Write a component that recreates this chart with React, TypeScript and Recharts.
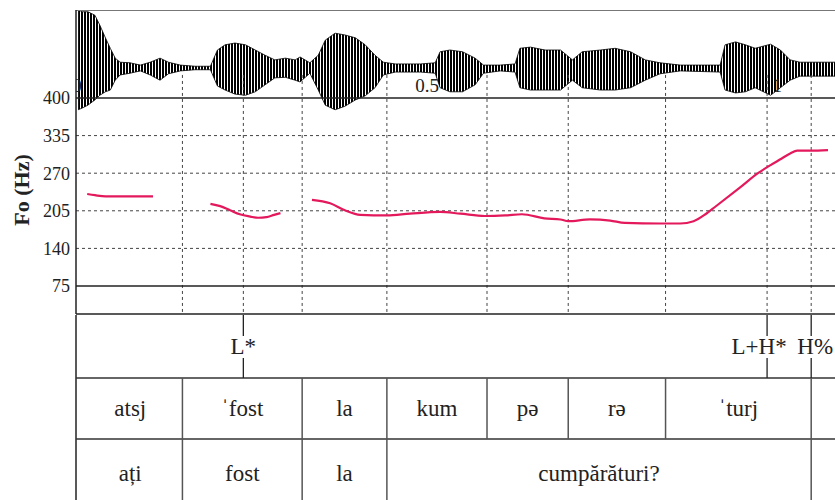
import React from 'react'
import { ComposedChart, Area, Line, Scatter, XAxis, YAxis, ReferenceLine } from 'recharts'

// waveform envelope: time (s), upper and lower peak amplitude
const waveTimes = [
  0, 0.006, 0.014, 0.024, 0.031, 0.039, 0.046, 0.053, 0.06, 0.074,
  0.089, 0.103, 0.117, 0.129, 0.146, 0.167, 0.189, 0.199, 0.21, 0.224,
  0.239, 0.253, 0.267, 0.281, 0.296, 0.31, 0.317, 0.331, 0.343, 0.353,
  0.367, 0.381, 0.396, 0.41, 0.424, 0.436, 0.453, 0.489, 0.51, 0.517,
  0.531, 0.549, 0.567, 0.579, 0.603, 0.624, 0.631, 0.646, 0.667, 0.689,
  0.706, 0.72, 0.746, 0.767, 0.789, 0.81, 0.831, 0.86, 0.917, 0.924,
  0.939, 0.953, 0.967, 0.989, 1.003, 1.017, 1.031, 1.081,
]
const waveHi = [
  1.0, 0.97, 0.97, 0.91, 0.74, 0.52, 0.34, 0.17, 0.1, 0.09,
  0.05, 0.1, 0.17, 0.1, 0.05, 0.03, 0.03, 0.31, 0.4, 0.43,
  0.4, 0.31, 0.22, 0.14, 0.17, 0.14, 0.19, 0.09, 0.22, 0.48,
  0.6, 0.57, 0.52, 0.4, 0.22, 0.1, 0.07, 0.07, 0.09, 0.28,
  0.31, 0.28, 0.17, 0.05, 0.05, 0.07, 0.34, 0.36, 0.31, 0.31,
  0.14, 0.28, 0.31, 0.34, 0.28, 0.14, 0.09, 0.05, 0.05, 0.4,
  0.45, 0.4, 0.34, 0.41, 0.31, 0.14, 0.1, 0.1,
]
const waveLo = [
  -0.72, -0.69, -0.64, -0.55, -0.47, -0.41, -0.38, -0.21, -0.12, -0.09,
  -0.05, -0.12, -0.21, -0.1, -0.05, -0.03, -0.03, -0.31, -0.38, -0.45,
  -0.47, -0.41, -0.29, -0.17, -0.16, -0.21, -0.24, -0.09, -0.38, -0.64,
  -0.72, -0.66, -0.55, -0.48, -0.34, -0.12, -0.07, -0.07, -0.09, -0.34,
  -0.41, -0.41, -0.29, -0.09, -0.05, -0.07, -0.34, -0.38, -0.38, -0.38,
  -0.21, -0.34, -0.38, -0.38, -0.34, -0.21, -0.1, -0.05, -0.07, -0.38,
  -0.43, -0.41, -0.34, -0.47, -0.34, -0.21, -0.14, -0.14,
]

// pitch track, null = unvoiced gap
const f0Times = [
  0.013, 0.024, 0.039, 0.06, 0.086, 0.107, 0.13,
  0.189, 0.203, 0.217, 0.231, 0.246, 0.257, 0.269, 0.28, 0.289, 0.3,
  0.334, 0.36, 0.381, 0.403, 0.441, 0.474, 0.517, 0.546, 0.581, 0.61,
  0.634, 0.666, 0.689, 0.7, 0.731, 0.76, 0.781, 0.831, 0.86, 0.879,
  0.896, 0.91, 0.946, 0.971, 0.989, 1.003, 1.017, 1.027, 1.046, 1.071,
]
const f0Hz = [
  234, 232, 230, 230, 230, 230, null,
  217, 213, 206, 199, 195, 193, 194, 198, 201, null,
  224, 218, 206, 198, 197, 200, 203, 200, 196, 197,
  199, 192, 190, 187, 190, 188, 184, 183, 183, 187,
  199, 212, 246, 270, 284, 294, 304, 309, 309, 310,
]

const f0Ticks = [75, 140, 205, 270, 335, 400]
const timeTicks = [0, 0.5, 1]

const toneTimes = [0.236, 0.984, 1.047]
const toneLabels = ['L*', 'L+H*', 'H%']
const syllableBounds = [0, 0.149, 0.32, 0.441, 0.584, 0.7, 0.839, 1.047]
const syllables = ['atsj', 'ˈfost', 'la', 'kum', 'pə', 'rə', 'ˈturj']
const wordBounds = [0, 0.149, 0.32, 0.441, 1.047]
const words = ['ați', 'fost', 'la', 'cumpărături?']

const FONT = '"Liberation Serif", "DejaVu Serif", serif'
const RED = '#E3195C'
const X_DOMAIN: [number, number] = [-0.003, 1.081]
const F0_DOMAIN: [number, number] = [26.6, 552.1]
const WAVE_DOMAIN: [number, number] = [-4.241, 1]
// height (in waveform units) at which the time labels sit
const TIME_LABEL_LEVEL = -0.3

const waveData = waveTimes.map((t, i) => ({ t, amp: [waveLo[i], waveHi[i]] }))
const f0Data = f0Times.map((t, i) => ({ t, hz: f0Hz[i] }))
const timeData = timeTicks.map((t) => ({ t, y: TIME_LABEL_LEVEL, label: String(t) }))

const mids = (b: number[]) => b.slice(1).map((e, i) => (b[i] + e) / 2)
const markTimes = Array.from(new Set([...syllableBounds.slice(1), ...toneTimes])).sort((a, b) => a - b)

// tier rows, in px from the top of the tier block
const TONE_Y = 31
const SYL_TOP = 63
const SYL_Y = 93
const WORD_TOP = 124
const WORD_Y = 158
const TIER_H = 193

// nudge adjacent tone labels apart so they don't collide
const toneNudge: Record<string, number> = { 'L+H*': -8, 'H%': 4 }

const toneData = toneTimes.map((t, i) => ({ t, y: TONE_Y, label: toneLabels[i] }))
const sylData = mids(syllableBounds).map((t, i) => ({ t, y: SYL_Y, label: syllables[i] }))
const wordData = mids(wordBounds).map((t, i) => ({ t, y: WORD_Y, label: words[i] }))

const TierText = (p: any) => (
  <text
    x={p.cx + (toneNudge[p.payload.label] ?? 0)}
    y={p.cy}
    textAnchor="middle"
    dominantBaseline="central"
    fontSize={23}
    fontFamily={FONT}
    fill="#222"
  >
    {p.payload.label}
  </text>
)

const TimeText = (p: any) => (
  <text x={p.cx - 1} y={p.cy} textAnchor="middle" dominantBaseline="central" fontSize={19} fontFamily={FONT} fill="#222">
    {p.payload.label}
  </text>
)

const FoLabel = () => (
  <text
    transform="translate(21, 180) rotate(-90)"
    textAnchor="middle"
    dominantBaseline="central"
    fontSize={22}
    fontWeight={700}
    fontFamily={FONT}
    fill="#222"
  >
    Fo (Hz)
  </text>
)

export default function App() {
  return (
    <div style={{ position: 'absolute', left: 0, top: 0, width: 835, height: 500, overflow: 'hidden', background: '#fff' }}>
      <div style={{ position: 'absolute', left: 0, top: 10 }}>
        <ComposedChart width={835} height={305} margin={{ top: 0, right: 0, bottom: 1, left: 0 }}>
          <defs>
            <pattern id="osc" width="3" height="8" patternUnits="userSpaceOnUse">
              <rect x="0" y="0" width="2" height="8" fill="#000" />
            </pattern>
          </defs>
          <XAxis type="number" dataKey="t" domain={X_DOMAIN} allowDataOverflow hide />
          <YAxis
            yAxisId="f0"
            type="number"
            domain={F0_DOMAIN}
            allowDataOverflow
            ticks={f0Ticks}
            width={76}
            tickSize={0}
            tickMargin={6}
            tickLine={false}
            axisLine={{ stroke: '#222', strokeWidth: 1.5 }}
            tick={{ fontSize: 18, fill: '#222', fontFamily: FONT }}
            label={<FoLabel />}
          />
          <YAxis yAxisId="wave" type="number" dataKey="y" domain={WAVE_DOMAIN} allowDataOverflow hide />

          <ReferenceLine yAxisId="wave" y={1} stroke="#777" strokeWidth={2} />
          {[335, 270, 205, 140].map((v) => (
            <ReferenceLine key={v} yAxisId="f0" y={v} stroke="#444" strokeDasharray="3 3" />
          ))}
          {markTimes.map((t) => (
            <ReferenceLine
              key={t}
              yAxisId="wave"
              segment={[{ x: t, y: -0.12 }, { x: t, y: WAVE_DOMAIN[0] }]}
              stroke="#444"
              strokeDasharray="3 3"
            />
          ))}

          <Area
            data={waveData}
            yAxisId="wave"
            dataKey="amp"
            type="linear"
            fill="url(#osc)"
            fillOpacity={1}
            stroke="#000"
            strokeWidth={0.8}
            dot={false}
            activeDot={false}
            isAnimationActive={false}
          />
          <Scatter data={timeData} yAxisId="wave" dataKey="y" shape={<TimeText />} isAnimationActive={false} />
          <ReferenceLine yAxisId="f0" y={400} stroke="#222" strokeWidth={1.5} />
          <ReferenceLine yAxisId="f0" y={75} stroke="#222" strokeWidth={1.5} />
          <ReferenceLine yAxisId="f0" y={F0_DOMAIN[0]} stroke="#222" strokeWidth={1.5} />
          <Line
            data={f0Data}
            yAxisId="f0"
            dataKey="hz"
            type="monotone"
            stroke={RED}
            strokeWidth={2.2}
            dot={false}
            activeDot={false}
            connectNulls={false}
            isAnimationActive={false}
          />
        </ComposedChart>
      </div>

      <div style={{ position: 'absolute', left: 0, top: 315 }}>
        <ComposedChart width={835} height={TIER_H} margin={{ top: 0, right: 0, bottom: 0, left: 76 }}>
          <XAxis type="number" dataKey="t" domain={X_DOMAIN} allowDataOverflow hide />
          <YAxis type="number" dataKey="y" domain={[0, TIER_H]} reversed allowDataOverflow hide />

          <ReferenceLine x={X_DOMAIN[0]} stroke="#222" strokeWidth={1.5} />
          <ReferenceLine y={SYL_TOP} stroke="#333" strokeWidth={1.5} />
          <ReferenceLine y={WORD_TOP} stroke="#333" strokeWidth={1.5} />
          {toneTimes.map((t) => (
            <React.Fragment key={t}>
              <ReferenceLine segment={[{ x: t, y: 0 }, { x: t, y: 21 }]} stroke="#222" strokeWidth={1.3} />
              <ReferenceLine segment={[{ x: t, y: 43 }, { x: t, y: SYL_TOP }]} stroke="#222" strokeWidth={1.3} />
            </React.Fragment>
          ))}
          {syllableBounds.slice(1).map((t) => (
            <ReferenceLine key={t} segment={[{ x: t, y: SYL_TOP }, { x: t, y: WORD_TOP }]} stroke="#555" strokeWidth={1.5} />
          ))}
          {wordBounds.slice(1).map((t) => (
            <ReferenceLine key={t} segment={[{ x: t, y: WORD_TOP }, { x: t, y: TIER_H }]} stroke="#555" strokeWidth={1.5} />
          ))}

          <Scatter data={toneData} dataKey="y" shape={<TierText />} isAnimationActive={false} />
          <Scatter data={sylData} dataKey="y" shape={<TierText />} isAnimationActive={false} />
          <Scatter data={wordData} dataKey="y" shape={<TierText />} isAnimationActive={false} />
        </ComposedChart>
      </div>
    </div>
  )
}
